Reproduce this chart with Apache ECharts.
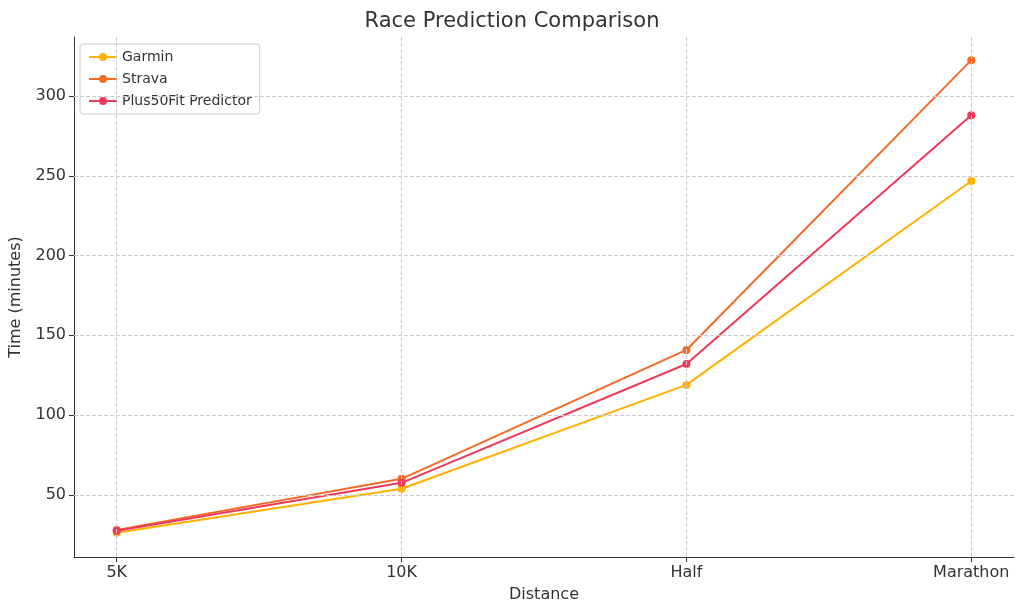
<!DOCTYPE html>
<html><head><meta charset="utf-8">
<script src="https://cdn.jsdelivr.net/npm/echarts@6/dist/echarts.min.js"></script>
<style>html,body{margin:0;padding:0;background:#fff}#main{width:1024px;height:613px}</style>
</head><body><div id="main"></div>
<script>
var distances = ['5K', '10K', 'Half', 'Marathon'];
var garmin = [26.2, 53.8, 118.9, 246.7];
var strava = [28, 60, 140.8, 322.5];
var plus50 = [27.4, 57.5, 132, 288];
var yTicks = [50, 100, 150, 200, 250, 300];
var xTicks = [0, 1, 2, 3];

function pts(arr) { return arr.map(function (v, i) { return [i, v]; }); }

var font = 'DejaVu Sans';
function line(name, data, color) {
  return {
    name: name, type: 'line', data: pts(data), symbol: 'circle', symbolSize: 8,
    lineStyle: { width: 2, color: color }, itemStyle: { color: color }
  };
}

var chart = echarts.init(document.getElementById('main'));
chart.setOption({
  animation: false,
  textStyle: { fontFamily: font },
  title: { text: 'Race Prediction Comparison', left: 'center', top: 6,
    textStyle: { fontFamily: font, fontSize: 21, fontWeight: 'normal', color: '#333' } },
  legend: {
    left: 80, top: 44, orient: 'vertical', itemGap: 8,
    backgroundColor: '#fff', borderColor: '#ccc', borderWidth: 1, borderRadius: 3, padding: [6, 8],
    textStyle: { fontFamily: font, fontSize: 14, color: '#333' },
    itemWidth: 28, itemHeight: 10
  },
  grid: { left: 72, right: 10, top: 37, bottom: 56 },
  xAxis: {
    type: 'value', min: -0.15, max: 3.15,
    name: 'Distance', nameLocation: 'middle', nameGap: 30,
    nameTextStyle: { fontSize: 16, color: '#333' },
    axisLine: { onZero: false, lineStyle: { color: '#333' } },
    axisTick: { show: true, customValues: xTicks, lineStyle: { color: '#333' } },
    axisLabel: { fontSize: 16, color: '#333', customValues: xTicks,
      formatter: function (v) { return distances[Math.round(v)]; } },
    splitLine: { show: false }
  },
  yAxis: {
    type: 'value', min: 11, max: 337,
    name: 'Time (minutes)', nameLocation: 'middle', nameGap: 50,
    nameTextStyle: { fontSize: 16, color: '#333' },
    axisLine: { show: true, onZero: false, lineStyle: { color: '#333' } },
    axisTick: { show: true, customValues: yTicks },
    axisLabel: { fontSize: 16, color: '#333', customValues: yTicks },
    splitLine: { show: false }
  },
  series: [
    line('Garmin', garmin, '#FFB000'),
    line('Strava', strava, '#F46A25'),
    line('Plus50Fit Predictor', plus50, '#F0385A'),
    {
      type: 'line', data: [], silent: true,
      markLine: {
        symbol: 'none', silent: true, label: { show: false },
        lineStyle: { type: 'dashed', color: '#ccc', width: 1 },
        data: xTicks.map(function (v) { return { xAxis: v }; })
          .concat(yTicks.map(function (v) { return { yAxis: v }; }))
      }
    }
  ]
});
</script></body></html>
